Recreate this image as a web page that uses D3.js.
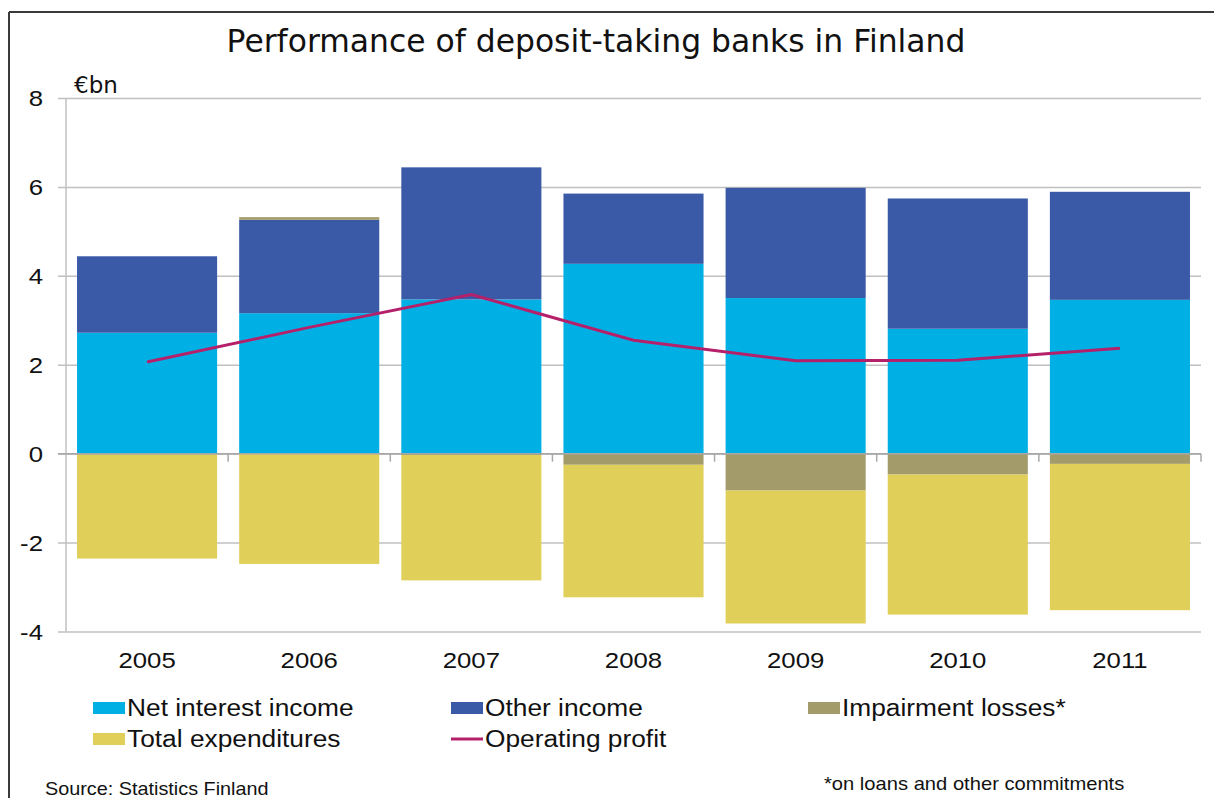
<!DOCTYPE html>
<html>
<head>
<meta charset="utf-8">
<script src="https://cdn.jsdelivr.net/npm/d3@7"></script>
<style>
  html, body { margin: 0; padding: 0; background: #fff; }
  svg { display: block; }
</style>
</head>
<body>
<svg id="chart" width="1214" height="798"></svg>
<script>
// Deposit-taking banks in Finland, €bn
const years = ["2005", "2006", "2007", "2008", "2009", "2010", "2011"];
const netInterestIncome = [2.72, 3.16, 3.47, 4.27, 3.50, 2.81, 3.46];
const otherIncome = [1.72, 2.10, 2.97, 1.58, 2.48, 2.93, 2.43];
const impairmentLosses = [-0.02, 0.06, -0.03, -0.25, -0.83, -0.47, -0.23];
const totalExpenditures = [-2.34, -2.48, -2.82, -2.98, -2.99, -3.15, -3.29];
const operatingProfit = [2.06, 2.84, 3.58, 2.55, 2.09, 2.10, 2.37];
const yTicks = [-4, -2, 0, 2, 4, 6, 8];

const seriesKeys = ["Net interest income", "Other income", "Impairment losses*", "Total expenditures"];
const seriesValues = [netInterestIncome, otherIncome, impairmentLosses, totalExpenditures];
const colors = {
  "Net interest income": "#00b0e4",
  "Other income": "#3a5aa8",
  "Impairment losses*": "#a49b6b",
  "Total expenditures": "#e0cf58",
  "Operating profit": "#b5206a"
};

const table = years.map((yr, i) => {
  const row = { year: yr };
  seriesKeys.forEach((k, j) => { row[k] = seriesValues[j][i]; });
  return row;
});

const svg = d3.select("#chart");
const sans = "'Liberation Sans', Arial, sans-serif";
const stretch = 1.12;

// plot geometry
const plotLeft = 66, plotRight = 1201;
const x = d3.scaleBand().domain(years).range([plotLeft, plotRight])
  .paddingInner(0.136).paddingOuter(0.068);
const y = d3.scaleLinear().domain([-4, 8]).range([631.5, 98]);

// frame
svg.append("line").attr("x1", 9).attr("x2", 1214).attr("y1", 12).attr("y2", 12)
  .attr("stroke", "#3a3a3a").attr("stroke-width", 2);
svg.append("line").attr("x1", 9).attr("x2", 9).attr("y1", 12).attr("y2", 798)
  .attr("stroke", "#3a3a3a").attr("stroke-width", 2);

// horizontal text helper with a slight horizontal stretch
function label(g, txt, px, py, size, anchor, family) {
  return g.append("text")
    .attr("transform", `translate(${px},${py}) scale(${stretch},1)`)
    .attr("text-anchor", anchor || "start")
    .attr("font-family", family || sans)
    .attr("font-size", size)
    .attr("fill", "#111")
    .text(txt);
}

// title
svg.append("text").attr("x", 596).attr("y", 52).attr("text-anchor", "middle")
  .attr("font-family", "'DejaVu Sans', Verdana, sans-serif").attr("font-size", 31.4)
  .attr("fill", "#111").text("Performance of deposit-taking banks in Finland");

// unit
svg.append("text").attr("x", 74).attr("y", 93)
  .attr("font-family", "'DejaVu Sans', Verdana, sans-serif").attr("font-size", 23)
  .attr("fill", "#111").text("€bn");

// gridlines + y axis
const yAxis = d3.axisLeft(y).tickValues(yTicks).tickSize(-(plotRight - plotLeft)).tickPadding(0).tickFormat("");
const gy = svg.append("g").attr("transform", `translate(${plotLeft},0)`).call(yAxis);
gy.select(".domain").remove();
gy.selectAll(".tick line").attr("x1", -8).attr("stroke", "#c0c0c0").attr("stroke-width", 1.5);
yTicks.forEach(t => {
  label(svg, String(t), 43, y(t) + 8, 23, "end");
});
svg.append("line").attr("x1", plotLeft).attr("x2", plotLeft).attr("y1", y(8)).attr("y2", y(-4))
  .attr("stroke", "#c0c0c0").attr("stroke-width", 1.5);

// stacked bars
const stack = d3.stack().keys(seriesKeys).offset(d3.stackOffsetDiverging);
const layers = stack(table);
svg.append("g").selectAll("g").data(layers).join("g")
  .attr("fill", d => colors[d.key])
  .selectAll("rect").data(d => d).join("rect")
  .attr("x", d => x(d.data.year))
  .attr("width", x.bandwidth())
  .attr("y", d => y(Math.max(d[0], d[1])))
  .attr("height", d => Math.abs(y(d[0]) - y(d[1])));

// zero axis with category tick marks
const boundaries = years.map(yr => x(yr) - x.step() * x.paddingInner() / 2).concat([plotRight]);
svg.append("line").attr("x1", plotLeft - 8).attr("x2", plotRight).attr("y1", y(0)).attr("y2", y(0))
  .attr("stroke", "#a8a8a8").attr("stroke-width", 1.5);
svg.append("g").selectAll("line").data(boundaries.slice(1)).join("line")
  .attr("x1", d => d).attr("x2", d => d).attr("y1", y(0)).attr("y2", y(0) + 8)
  .attr("stroke", "#a8a8a8").attr("stroke-width", 1.5);

// year labels
years.forEach(yr => {
  label(svg, yr, x(yr) + x.bandwidth() / 2, 668, 23, "middle");
});

// operating profit line
const line = d3.line().x((d, i) => x(years[i]) + x.bandwidth() / 2).y(d => y(d));
svg.append("path").datum(operatingProfit).attr("d", line)
  .attr("fill", "none").attr("stroke", colors["Operating profit"]).attr("stroke-width", 3);

// legend
const legendItems = [
  { key: "Net interest income", type: "rect", lx: 93, ly: 716 },
  { key: "Other income", type: "rect", lx: 451, ly: 716 },
  { key: "Impairment losses*", type: "rect", lx: 808, ly: 716 },
  { key: "Total expenditures", type: "rect", lx: 93, ly: 747 },
  { key: "Operating profit", type: "line", lx: 451, ly: 747 }
];
const lg = svg.append("g");
legendItems.forEach(it => {
  if (it.type === "rect") {
    lg.append("rect").attr("x", it.lx).attr("y", it.ly - 14).attr("width", 32).attr("height", 12)
      .attr("fill", colors[it.key]);
  } else {
    lg.append("line").attr("x1", it.lx).attr("x2", it.lx + 32).attr("y1", it.ly - 8).attr("y2", it.ly - 8)
      .attr("stroke", colors[it.key]).attr("stroke-width", 3);
  }
  label(lg, it.key, it.lx + 34, it.ly, 23.5, "start");
});

// footer
label(svg, "Source: Statistics Finland", 45, 795, 17.7, "start");
label(svg, "*on loans and other commitments", 824, 790, 18, "start");
</script>
</body>
</html>
